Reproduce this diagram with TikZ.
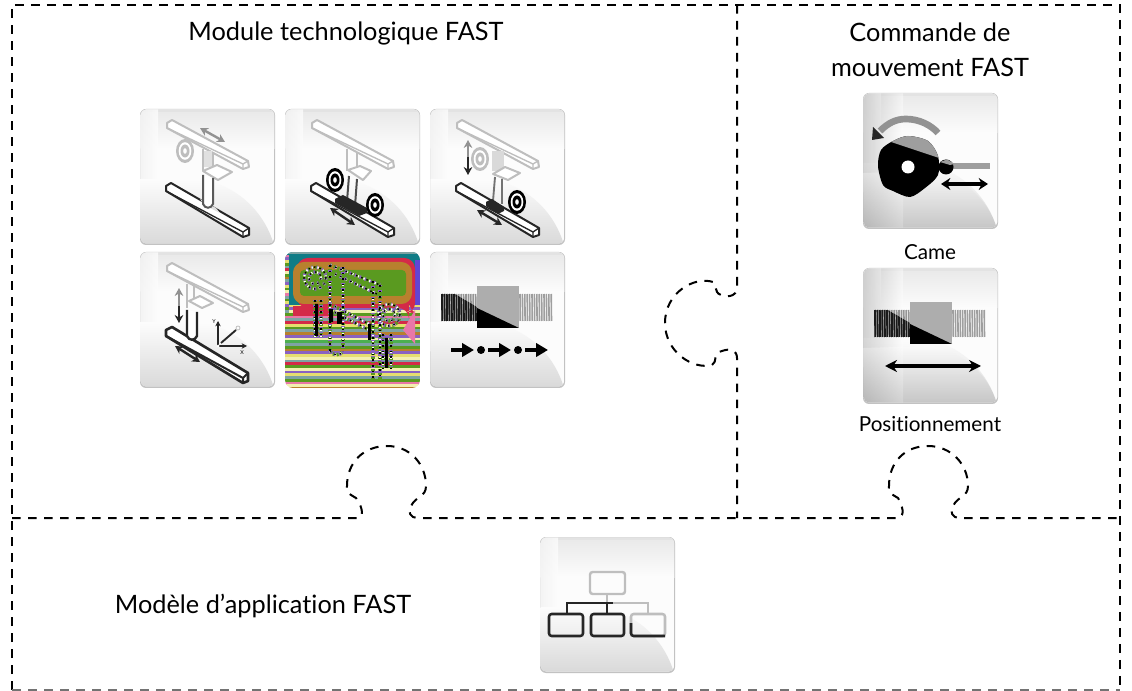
\documentclass[tikz,border=0pt]{standalone}
\usepackage{fontspec}
\setmainfont{Lato}[Ligatures=NoCommon]
\usetikzlibrary{arrows.meta}
\definecolor{lg}{HTML}{BEBEBE}
\definecolor{mg}{HTML}{929292}
\definecolor{dg}{HTML}{262626}
\definecolor{sa}{HTML}{E6DE70}
\definecolor{sb}{HTML}{5A9A20}
\definecolor{sc}{HTML}{8A62C2}
\definecolor{sd}{HTML}{7FA3A3}
\definecolor{se}{HTML}{D42A48}
\definecolor{sf}{HTML}{B8802E}
\definecolor{sg}{HTML}{F2F0B0}
\definecolor{sh}{HTML}{0F7C86}
\definecolor{si}{HTML}{4CAF50}
\definecolor{sj}{HTML}{E878A8}
\tikzset{
  dashframe/.style={line width=1.5pt,black,dash pattern=on 6.4pt off 5.6pt},
  titletext/.style={font=\fontsize{19}{23}\selectfont,text=black,inner sep=0pt,align=center},
  captiontext/.style={font=\fontsize{15.5}{18}\selectfont,text=black,inner sep=0pt},
  lightbeam/.style={draw=lg,fill=white,line width=1.5pt,line join=round},
  darkbeam/.style={draw=dg,fill=white,line width=1.5pt,line join=round},
  grayarrow/.style={draw=mg,line width=1.8pt,{Stealth[length=6pt,width=6.5pt]}-{Stealth[length=6pt,width=6.5pt]}},
  darkarrow/.style={draw=dg,line width=1.8pt,{Stealth[length=6pt,width=6.5pt]}-{Stealth[length=6pt,width=6.5pt]}},
  blockarrow/.style={draw=black,line width=3pt,-{Stealth[length=9pt,width=10pt,inset=0pt]}},
  noiseA/.style={line width=2.6pt,draw=sb,dash pattern=on 1.5pt off 1.5pt},
  noiseB/.style={line width=2.6pt,draw=sc,dash pattern=on 1pt off 3pt},
  noiseD/.style={line width=1.6pt,draw=white,dash pattern=on 1pt off 3.5pt},
  noiseC/.style={line width=1pt,draw=black,dash pattern=on 1.2pt off 3pt},
}
\newcommand\tilebase{%
  \fill[black!24,rounded corners=4.5pt] (0,0) rectangle (135,136);
  \begin{scope}
    \clip[rounded corners=4pt] (0.7,0.5) rectangle (134.3,134.5);
    \fill[black!1] (0,0) rectangle (135,136);
    \shade[top color=black!9,bottom color=black!1] (0,0) rectangle (135,40);
    \fill[black!11] (0,0) rectangle (135,3);
    \shade[left color=black!5,right color=black!1,opacity=.8] (0,0) rectangle (18,100);
    \shade[top color=black!1,bottom color=black!15]
      (0,70) -- (60,70) .. controls (100,77) and (125,105) .. (134,136) -- (0,136) -- cycle;
  \end{scope}}
\newcommand\tiledark{%
  \begin{scope}
    \clip[rounded corners=4pt] (0.7,0.5) rectangle (134.3,134.5);
    \shade[left color=black!35,right color=white,opacity=.45] (0,0) rectangle (40,136);
    \shade[top color=white,bottom color=black!40,opacity=.3]
      (0,80) -- (70,78) .. controls (100,85) and (125,105) .. (134,136) -- (0,136) -- cycle;
  \end{scope}}
\newcommand\topbeam[1]{%
  \path[#1] (27,14) -- (32,11) -- (108,52) -- (109,58) -- (103,60) -- (27,19) -- cycle;
  \draw[#1,fill=none,line width=1pt] (27,19) -- (103,55) -- (108,52) (103,55) -- (103,60);}
\newcommand\botbeam[1]{%
  \path[#1] (26,77) -- (31,74) -- (109,119) -- (109,126) -- (103,128) -- (26,82) -- cycle;
  \draw[#1,fill=none,line width=1pt] (26,82) -- (103,123) -- (109,119) (103,123) -- (103,128);}
\newcommand\disc[4]{%
  \fill[#3] (#1,#2) ellipse (9 and 12);
  \fill[white] (#1,#2) ellipse (6.3 and 8.8);
  \fill[#3] (#1,#2) ellipse (4.5 and 6.5);
  \fill[white] (#1,#2) ellipse (1.8 and 2.8);}
\newcommand\screwicon{%
  \foreach \x in {12,14.4,...,46} \draw[black!42,line width=1.3pt] (\x,42) -- (\x+.3,69);
  \foreach \x in {90,92.4,...,123} \draw[black!38,line width=1.2pt] (\x,42) -- (\x+.3,69);
  \begin{scope}
    \clip (8,32) -- (47,55) -- (47,72) -- (8,72) -- cycle;
    \foreach \x in {12,14.4,...,46} \draw[black!90,line width=1.4pt] (\x,42) -- (\x+.3,69);
  \end{scope}
  \fill[black!32] (47,34) rectangle (89,76);
  \fill[black] (47,56) -- (89,76) -- (47,76) -- cycle;}
\begin{document}
\begin{tikzpicture}[x=.75pt,y=-.75pt]
\useasboundingbox (0,0) rectangle (1132,691);
\fill[white] (0,0) rectangle (1132,691);

% --- dashed puzzle outlines
\draw[dashframe] (12,690) -- (12,5) -- (1120,5) -- (1120,690);
\draw[dashframe,black!55] (12,690) -- (1120,690);
\draw[dashframe] (737,5) -- (737,288)
  .. controls (737,296) and (727,298) .. (721,295)
  .. controls (713,292) and (718,285) .. (713,282)
  .. controls (695,276) and (665,292) .. (665,323)
  .. controls (665,352) and (693,370) .. (712,365)
  .. controls (718,362) and (712,353) .. (722,351)
  .. controls (730,348) and (737,350) .. (737,358)
  -- (737,518);
\draw[dashframe] (12,518) -- (358,518)
  .. controls (366,516) and (360,503) .. (356,498)
  .. controls (350,494) and (346,494) .. (347,486)
  .. controls (347,462) and (364,446) .. (387,446)
  .. controls (410,446) and (426,464) .. (426,486)
  .. controls (426,497) and (416,496) .. (411,506)
  .. controls (407,512) and (411,518) .. (417,518)
  -- (898,518)
  .. controls (906,516) and (902,505) .. (898,498)
  .. controls (892,494) and (888,494) .. (889,486)
  .. controls (889,462) and (905,446) .. (928,446)
  .. controls (951,446) and (968,464) .. (968,486)
  .. controls (968,497) and (958,496) .. (953,506)
  .. controls (949,512) and (953,518) .. (959,518)
  -- (1120,518);

% --- texts
\node[titletext] (t1) at (346,33) {Module technologique FAST};
\node[titletext] (t2) at (930,50) {Commande de\\[3pt]mouvement FAST};
\node[titletext] (t3) at (263,606) {Modèle d’application FAST};
\node[captiontext] (c1) at (930,252) {Came};
\node[captiontext] (c2) at (930,424) {Positionnement};

% --- tile 1
\begin{scope}[shift={(140,109)}]
  \tilebase
  \topbeam{lightbeam}
  \botbeam{darkbeam}
  \fill[black!12] (60,90) -- (76,99) -- (80,104) -- (64,96) -- cycle;
  \draw[lg,line width=1.2pt] (63,40) -- (63,62) (73,44) -- (73,58);
  \fill[black!12] (64,42) rectangle (72,58);
  \draw[lightbeam] (63,62) -- (77,56) -- (92,63) -- (78,71) -- cycle;
  \filldraw[fill=white,draw=black!65,line width=1.5pt] (63,66) -- (63,95) .. controls (65,100) and (71,100) .. (73,95) -- (73,69);
  \disc{45}{42}{lg}{}
  \draw[grayarrow] (60,19) -- (85,33);
\end{scope}

% --- tile 2
\begin{scope}[shift={(285,109)}]
  \tilebase
  \topbeam{lightbeam}
  \botbeam{darkbeam}
  \draw[lg,line width=1.2pt] (62,40) -- (62,62) (72,44) -- (72,62);
  \draw[lightbeam] (63,61) -- (75,57) -- (86,62) -- (78,71) -- cycle;
  \draw[black!70,line width=1.5pt] (64,67) -- (62,92) (72,70) -- (70,97);
  \fill[dg] (50,90) -- (58,86) -- (82,99) -- (82,104) -- (74,107) -- (50,94) -- cycle;
  \disc{50}{71}{black}{}
  \disc{90}{96}{black}{}
  \draw[darkarrow] (45,99) -- (70,116);
\end{scope}

% --- tile 3
\begin{scope}[shift={(430,109)}]
  \tilebase
  \topbeam{lightbeam}
  \botbeam{darkbeam}
  \disc{50}{50}{lg}{}
  \fill[black!15] (62,42) rectangle (74,62);
  \draw[lightbeam] (63,65) -- (75,58) -- (90,64) -- (78,71) -- cycle;
  \draw[black!55,line width=1.4pt] (65,68) -- (63,92) (72,70) -- (72,95);
  \fill[dg] (56,93) -- (62,90) -- (74,98) -- (74,102) -- (68,105) -- (56,97) -- cycle;
  \disc{87}{93}{black}{}
  \draw[mg,line width=1.8pt,{Stealth[length=6pt,width=6.5pt]}-] (38,31) -- (38,48);
  \draw[dg,line width=1.8pt,-{Stealth[length=6pt,width=6.5pt]}] (38,48) -- (38,66);
  \draw[darkarrow] (47,101) -- (72,116);
\end{scope}

% --- tile 4
\begin{scope}[shift={(140,252)}]
  \tilebase
  \topbeam{lightbeam}
  \path[darkbeam,line width=2pt] (26,78) -- (32,75) -- (108,121) -- (108,129) -- (103,131) -- (26,84) -- cycle;
  \draw[dg,line width=1.5pt] (26,84) -- (103,126) -- (108,121) (103,126) -- (103,131);
  \draw[lg,line width=1.2pt] (47,32) -- (47,56) (54,32) -- (54,50);
  \draw[lightbeam] (49,49) -- (60,44) -- (73,51) -- (62,56) -- cycle;
  \filldraw[fill=white,draw=dg,line width=1.8pt] (47,58) -- (47,84) .. controls (49,89) and (55,89) .. (57,84) -- (57,60);
  \draw[mg,line width=1.8pt,{Stealth[length=6pt,width=6.5pt]}-] (39,36) -- (39,54);
  \draw[dg,line width=1.8pt,-{Stealth[length=6pt,width=6.5pt]}] (39,54) -- (39,71);
  \draw[darkarrow] (35,94) -- (60,110);
  \draw[dg,line width=1.2pt,-{Stealth[length=4pt,width=4pt]}] (78,94) -- (78,69);
  \draw[dg,line width=1.2pt,-{Stealth[length=4pt,width=4pt]}] (78,94) -- (107,94);
  \draw[dg,line width=1.4pt] (81,91) -- (96,78);
  \fill[white] (78,94) circle (1.5);
  \draw[lg,line width=.6pt] (98,76) circle (2);
  \node[font=\fontsize{4}{4}\selectfont,inner sep=0pt] (axy) at (74,70) {Y};
  \node[font=\fontsize{4}{4}\selectfont,inner sep=0pt] (axx) at (102,101) {X};
\end{scope}

% --- tile 5: posterised tile
\begin{scope}[shift={(285,252)}]
  \begin{scope}
    \clip[rounded corners=6pt] (0,0) rectangle (135,136);
    \fill[sh] (0,0) rectangle (135,60);
    \fill[sc!70!blue] (130,8) rectangle (135,60);
    \foreach \c [count=\i] in {sa,sc,sg,sb,sj,sd,se,sa,sb,sd,sf,sc,sg,si,sd,sb,sf,sc,sa,sg,sd,se,sb,sg,sc,sa,sd,sb,sj,sg,sf,sc}
      \fill[\c] (0,{50+\i*2.75}) rectangle (135,{50+\i*2.75+2.8});
    \foreach \c [count=\i] in {sj,sc,sa,sb,sd,se,sg,sb,sf,sd,sc,sa,sb,sg,sj,sd,sb,sa,sc,sb,sd}
      \fill[\c] (0,{\i*2.75}) rectangle (4,{\i*2.75+2.8});
    \fill[sd] (0,0) rectangle (135,2.5);
    \fill[se,rounded corners=8pt] (12,6) -- (130,6) -- (130,62) -- (124,60) -- (124,56) -- (12,56) -- cycle;
    \fill[sf,rounded corners=8pt] (8,10) rectangle (127,52);
    \fill[sb,rounded corners=3pt] (15,18) rectangle (121,44);
    \fill[sj] (118,78) -- (130,58) -- (130,92) -- cycle;
    \fill[se] (8,54) rectangle (44,64);
    % noisy frame
    \foreach \s in {noiseA,noiseB,noiseD,noiseC}{
      \draw[\s] (45,13) -- (45,99) (58,15) -- (58,99);
      \draw[\s] (88,29) -- (88,128) (95,33) -- (95,128);
      \draw[\s] (45,13) -- (95,33) (50,22) -- (92,42);
      \draw[\s] (45,52) -- (88,74) (45,58) -- (88,80);
      \draw[\s] (30,48) -- (30,86) (36,48) -- (36,86);
      \draw[\s] (98,82) -- (98,118) (106,82) -- (106,118);
      \draw[\s] (45,99) .. controls (47,104) and (56,104) .. (58,99);
      \draw[\s] (30,26) circle (11) (30,26) circle (6);
      \draw[\s] (104,63) circle (11) (104,63) circle (6);
    }
    \fill[black] (44,57) rectangle (48,70) (52,60) rectangle (57,72);
    \fill[black] (30,52) rectangle (33,84) (100,86) rectangle (103,116);
    \fill[black] (83,72) rectangle (86,88);
  \end{scope}
\end{scope}

% --- tile 6
\begin{scope}[shift={(430,252)}]
  \tilebase
  \screwicon
  \draw[blockarrow] (21,98) -- (44,98);
  \fill[black] (51,98) circle (4);
  \draw[blockarrow] (58,98) -- (81,98);
  \fill[black] (88,98) circle (4);
  \draw[blockarrow] (95,98) -- (118,98);
\end{scope}

% --- came
\begin{scope}[shift={(863,93)}]
  \tilebase
  \tiledark
  \draw[mg,line width=5pt] (75,40) .. controls (68,32) and (56,26) .. (43,26) .. controls (33,26) and (25,30) .. (17,38);
  \fill[black!85] (9,47) -- (10,34) -- (21,45) -- cycle;
  \fill[black] plot[smooth cycle] coordinates {(45,43) (65,48) (75,63) (75,82) (62,95) (47,104) (30,98) (20,92) (15,73) (18,57) (30,48)};
  \begin{scope}
    \clip (20,35) -- (85,35) -- (85,68) -- (28,49) -- cycle;
    \fill[black!38] plot[smooth cycle] coordinates {(45,43) (65,48) (75,63) (75,82) (62,95) (47,104) (30,98) (20,92) (15,73) (18,57) (30,48)};
  \end{scope}
  \fill[white] (45,74) circle (6.5);
  \fill[black!38] (86,70.5) rectangle (127,76.5);
  \fill[black] (83,74) circle (7.5);
  \fill[black!38] (77,69) -- (84,66.5) -- (92,71) -- (87,72) -- cycle;
  \draw[black,line width=2.6pt,{Stealth[length=7pt,width=9pt]}-{Stealth[length=7pt,width=9pt]}] (78,91) -- (125,91);
\end{scope}

% --- positionnement
\begin{scope}[shift={(863,268)}]
  \tilebase
  \tiledark
  \screwicon
  \draw[black,line width=2.6pt,{Stealth[length=9pt,width=9pt]}-{Stealth[length=9pt,width=9pt]}] (22,98) -- (118,98);
\end{scope}

% --- application model
\begin{scope}[shift={(540,537)}]
  \tilebase
  \draw[lg,line width=1.8pt,rounded corners=2pt] (50,35) rectangle (85,57);
  \draw[lg,line width=1.8pt] (67,57) -- (67,66) -- (108,66) -- (108,77);
  \draw[dg,line width=1.8pt] (27,77) -- (27,66) -- (73,66) (67,66) -- (67,77);
  \draw[dg,line width=1.9pt,rounded corners=2pt] (9,77) rectangle (43,99);
  \draw[dg,line width=1.9pt,rounded corners=2pt] (51,77) rectangle (84,99);
  \draw[lg,line width=1.9pt,rounded corners=2pt] (91,77) rectangle (125,99);
  \draw[dg,line width=1.9pt,rounded corners=2pt] (91,86) -- (91,99) -- (125,99);
\end{scope}
\end{tikzpicture}
\end{document}
